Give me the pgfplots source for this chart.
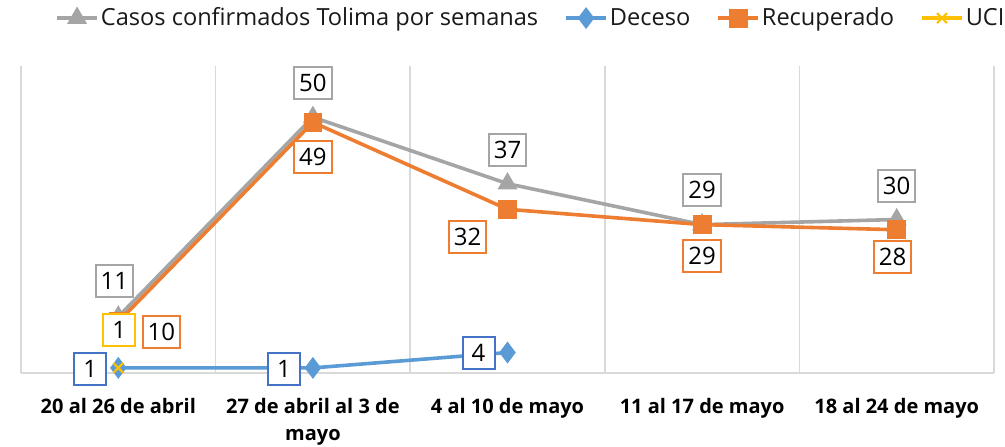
\documentclass[border=0pt]{standalone}
\usepackage{fontspec}
\setmainfont{Open Sans}
\usepackage{pgfplots}
\pgfplotsset{compat=1.18}
\definecolor{cgray}{HTML}{A5A5A5}
\definecolor{cblue}{HTML}{5B9BD5}
\definecolor{cblueb}{HTML}{4472C4}
\definecolor{corange}{HTML}{ED7D31}
\definecolor{cyellow}{HTML}{FFC000}
\definecolor{cgrid}{HTML}{D9D9D9}
\begin{document}
\begin{tikzpicture}
\begin{axis}[
  scale only axis, width=486.5pt, height=153.5pt,
  xmin=0.5, xmax=5.5, ymin=0, ymax=60,
  axis x line=bottom, axis y line=none,
  x axis line style={-, draw=cgrid, line width=0.75pt},
  xtick={1,2,3,4,5},
  xticklabels={20 al 26 de abril, {27 de abril al 3 de\\mayo}, 4 al 10 de mayo, 11 al 17 de mayo, 18 al 24 de mayo},
  major tick length=0pt,
  minor xtick={0.5,1.5,2.5,3.5,4.5,5.5}, minor tick length=0pt,
  xminorgrids, minor grid style={draw=cgrid, line width=0.75pt},
  xticklabel style={font=\bfseries\fontsize{10}{13.5}\selectfont, align=center, text=black, yshift=-9pt, anchor=north},
  ytick=\empty,
  clip=false,
  /pgf/number format/assume math mode=true,
  legend columns=4,
  legend style={draw=none, fill=none, at={(0.524,1.156)}, anchor=center,
    font=\fontsize{11.8}{13}\selectfont, text=black!90, inner sep=0pt,
    nodes={inner xsep=1pt},
    /tikz/every even column/.append style={column sep=12pt}},
  legend image code/.code={\draw[mark repeat=2,mark phase=2] plot coordinates {(0pt,0pt)(10pt,0pt)(20pt,0pt)};},
  nodes near coords,
  point meta=y,
  visualization depends on={\thisrow{dx}\as\dx},
  visualization depends on={\thisrow{dy}\as\dy},
  nodes near coords style={anchor=center, xshift=\dx pt, yshift=\dy pt, fill=white,
    line width=1pt, minimum width=16pt, minimum height=16pt, inner xsep=2.5pt, inner ysep=1pt,
    font=\fontsize{12}{12}\selectfont, text=black},
]
\addplot[color=cgray, line width=1.8pt, mark=triangle*, mark size=4pt,
  nodes near coords style={draw=cgray}] table {
x y dx dy
1 11 -2 18
2 50 0 17
3 37 0 17
4 29 0 17.5
5 30 0 17
};
\addlegendentry{Casos confirmados Tolima por semanas}
\addplot[color=cblue, line width=1.8pt, mark=diamond*, mark size=4pt,
  nodes near coords style={draw=cblueb}] table {
x y dx dy
1 1 -14 -0.5
2 1 -14.5 -0.5
3 4 -14.5 0
};
\addlegendentry{Deceso}
\addplot[color=corange, line width=1.8pt, mark=square*, mark size=3.8pt,
  nodes near coords style={draw=corange}] table {
x y dx dy
1 10 21.5 -5
2 49 0 -17.5
3 32 -20 -14
4 29 0 -15.5
5 28 -2 -13.5
};
\addlegendentry{Recuperado}
\addplot[color=cyellow, line width=1.8pt, mark=x, mark size=3.5pt,
  mark options={line width=1.1pt},
  nodes near coords style={draw=cyellow}] table {
x y dx dy
1 1 0.5 19
};
\addlegendentry{UCI}
\end{axis}
\pgfresetboundingbox
\path[use as bounding box] (-10.5pt,-36.5pt) rectangle (492pt,186.5pt);
\end{tikzpicture}
\end{document}
